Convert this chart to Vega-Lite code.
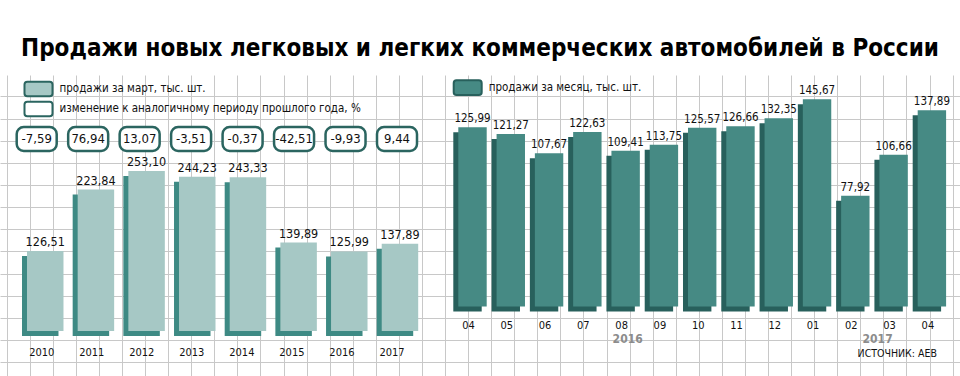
{
  "$schema": "https://vega.github.io/schema/vega-lite/v6.json",
  "background": "white",
  "width": 960,
  "height": 376,
  "autosize": {"type": "fit", "contains": "padding"},
  "padding": {"left": 0, "top": 37, "right": 0, "bottom": 0},
  "title": {"text": "Продажи новых легковых и легких коммерческих автомобилей в России", "font": "DejaVu Sans Condensed", "fontSize": 24, "fontWeight": "bold", "color": "#000000", "anchor": "middle", "offset": 14},
  "config": {
    "view": {"stroke": null},
    "font": "DejaVu Sans Condensed",
    "locale": {"number": {"decimal": ",", "thousands": " ", "grouping": [3], "currency": ["", ""], "minus": "-"}}
  },
  "datasets": {
    "march": [
      {"year": "2010", "sales": 126.51, "chg": -7.59},
      {"year": "2011", "sales": 223.84, "chg": 76.94},
      {"year": "2012", "sales": 253.10, "chg": 13.07},
      {"year": "2013", "sales": 244.23, "chg": -3.51},
      {"year": "2014", "sales": 243.33, "chg": -0.37},
      {"year": "2015", "sales": 139.89, "chg": -42.51},
      {"year": "2016", "sales": 125.99, "chg": -9.93},
      {"year": "2017", "sales": 137.89, "chg": 9.44}
    ],
    "monthly": [
      {"period": "2016-04", "label": "04", "sales": 125.99},
      {"period": "2016-05", "label": "05", "sales": 121.27},
      {"period": "2016-06", "label": "06", "sales": 107.67},
      {"period": "2016-07", "label": "07", "sales": 122.63},
      {"period": "2016-08", "label": "08", "sales": 109.41},
      {"period": "2016-09", "label": "09", "sales": 113.75},
      {"period": "2016-10", "label": "10", "sales": 125.57},
      {"period": "2016-11", "label": "11", "sales": 126.66},
      {"period": "2016-12", "label": "12", "sales": 132.35},
      {"period": "2017-01", "label": "01", "sales": 145.67},
      {"period": "2017-02", "label": "02", "sales": 77.92},
      {"period": "2017-03", "label": "03", "sales": 106.66},
      {"period": "2017-04", "label": "04", "sales": 137.89}
    ]
  },
  "resolve": {"scale": {"x": "independent", "y": "independent", "fill": "independent"}, "axis": {"x": "independent", "y": "independent"}, "legend": {"fill": "independent"}},
  "layer": [
    {
      "data": {"values": [{}]},
      "mark": {"type": "point", "opacity": 0},
      "encoding": {
        "x": {"datum": 0, "type": "quantitative", "scale": {"domain": [-0.29, 41.32], "nice": false, "zero": false}, "axis": {"grid": true, "labels": false, "ticks": false, "domain": false, "title": null, "tickCount": 42, "tickMinStep": 1, "gridColor": "#c8c8c8", "gridWidth": 1, "gridOpacity": 1}},
        "y": {"datum": 0, "type": "quantitative", "scale": {"domain": [-1.625, 11.964], "nice": false, "zero": false}, "axis": {"grid": true, "labels": false, "ticks": false, "domain": false, "title": null, "tickCount": 14, "tickMinStep": 1, "gridColor": "#c8c8c8", "gridWidth": 1, "gridOpacity": 1}}
      }
    },
    {
      "data": {"name": "march"},
      "encoding": {
        "x": {"field": "year", "type": "ordinal", "scale": {"range": [27, 418.2], "paddingInner": 0.28, "paddingOuter": 0}, "axis": null},
        "y": {"field": "sales", "type": "quantitative", "scale": {"domain": [-71.2, 405.1], "nice": false, "zero": false}, "axis": null}
      },
      "layer": [
        {"mark": {"type": "bar", "fill": "#3e8a84", "xOffset": -5, "yOffset": 5, "y2Offset": 5}},
        {"mark": {"type": "bar", "fill": "#a6c8c5"}},
        {
          "mark": {"type": "text", "baseline": "alphabetic", "dy": -5, "fontSize": 12.5, "color": "#111111", "font": "DejaVu Sans Condensed"},
          "encoding": {"text": {"field": "sales", "type": "quantitative", "format": ".2f"}}
        }
      ]
    },
    {
      "data": {"name": "march"},
      "encoding": {
        "x": {"field": "year", "type": "ordinal", "scale": {"range": [16.7, 417], "paddingInner": 0.223, "paddingOuter": 0}, "axis": null},
        "y": {"datum": "chg", "type": "nominal", "scale": {"range": [52, 76], "paddingInner": 0, "paddingOuter": 0}, "axis": null}
      },
      "layer": [
        {
          "mark": {"type": "rect", "stroke": "#2b6560", "strokeWidth": 2.5, "cornerRadius": 7},
          "encoding": {
            "fill": {
              "datum": "изменение к аналогичному периоду прошлого года, %",
              "type": "nominal",
              "scale": {"domain": ["продажи за март, тыс. шт.", "изменение к аналогичному периоду прошлого года, %"], "range": ["#a6c8c5", "#ffffff"]},
              "legend": {"orient": "none", "legendX": 30.5, "legendY": 6, "direction": "vertical", "title": null, "padding": 0, "symbolType": "M-1.6,-1.05H1.6Q2,-1.05 2,-0.65V0.65Q2,1.05 1.6,1.05H-1.6Q-2,1.05 -2,0.65V-0.65Q-2,-1.05 -1.6,-1.05Z", "symbolSize": 196, "symbolStrokeColor": "#2b6560", "symbolStrokeWidth": 2, "symbolOpacity": 1, "labelFont": "DejaVu Sans Condensed", "labelFontSize": 11.5, "labelColor": "#111111", "labelLimit": 0, "rowPadding": -4, "labelOffset": 13}
            }
          }
        },
        {
          "mark": {"type": "text", "fontSize": 13, "color": "#111111", "font": "DejaVu Sans Condensed"},
          "encoding": {"text": {"field": "chg", "type": "quantitative", "format": ".2f"}}
        }
      ]
    },
    {
      "data": {"name": "march"},
      "mark": {"type": "text", "baseline": "alphabetic", "dy": 25, "fontSize": 11, "color": "#111111", "font": "DejaVu Sans Condensed"},
      "encoding": {
        "x": {"field": "year", "type": "ordinal", "scale": {"range": [16.7, 417], "paddingInner": 0.223, "paddingOuter": 0}, "axis": null},
        "y": {"datum": 0, "type": "quantitative", "scale": {"domain": [-71.2, 405.1], "nice": false, "zero": false}, "axis": null},
        "text": {"field": "year"}
      }
    },
    {
      "data": {"name": "monthly"},
      "encoding": {
        "x": {"field": "period", "type": "ordinal", "scale": {"range": [458.3, 946.1], "paddingInner": 0.258, "paddingOuter": 0}, "axis": null},
        "y": {"field": "sales", "type": "quantitative", "scale": {"domain": [-48.8, 162.7], "nice": false, "zero": false}, "axis": null}
      },
      "layer": [
        {"mark": {"type": "bar", "fill": "#28605c", "xOffset": -5, "yOffset": 5, "y2Offset": 5}},
        {
          "mark": {"type": "bar"},
          "encoding": {
            "fill": {
              "datum": "продажи за месяц,  тыс. шт.",
              "type": "nominal",
              "scale": {"range": ["#468a84"]},
              "legend": {"orient": "none", "legendX": 459.7, "legendY": 4.7, "title": null, "padding": 0, "symbolType": "M-1.6,-1.05H1.6Q2,-1.05 2,-0.65V0.65Q2,1.05 1.6,1.05H-1.6Q-2,1.05 -2,0.65V-0.65Q-2,-1.05 -1.6,-1.05Z", "symbolSize": 196, "symbolStrokeColor": "#28605c", "symbolStrokeWidth": 2, "symbolOpacity": 1, "labelFont": "DejaVu Sans Condensed", "labelFontSize": 11.5, "labelColor": "#111111", "labelLimit": 0, "labelOffset": 13}
            }
          }
        },
        {
          "mark": {"type": "text", "baseline": "alphabetic", "dy": -5, "fontSize": 11.5, "color": "#111111", "font": "DejaVu Sans Condensed"},
          "encoding": {"text": {"field": "sales", "type": "quantitative", "format": ".2f"}}
        },
        {
          "mark": {"type": "text", "baseline": "alphabetic", "dy": 22, "dx": -4, "fontSize": 11, "color": "#111111", "font": "DejaVu Sans Condensed"},
          "encoding": {"y": {"datum": 0, "type": "quantitative"}, "text": {"field": "label"}}
        },
        {
          "transform": [{"filter": "datum.period == '2016-08'"}],
          "mark": {"type": "text", "baseline": "alphabetic", "dy": 36, "dx": 2, "fontSize": 12, "fontWeight": "bold", "color": "#8c8c8c", "font": "DejaVu Sans Condensed"},
          "encoding": {"y": {"datum": 0, "type": "quantitative"}, "text": {"value": "2016"}}
        },
        {
          "transform": [{"filter": "datum.period == '2017-03'"}],
          "mark": {"type": "text", "baseline": "alphabetic", "dy": 36, "dx": -16, "fontSize": 12, "fontWeight": "bold", "color": "#8c8c8c", "font": "DejaVu Sans Condensed"},
          "encoding": {"y": {"datum": 0, "type": "quantitative"}, "text": {"value": "2017"}}
        },
        {
          "transform": [{"filter": "datum.period == '2017-04'"}],
          "mark": {"type": "text", "baseline": "alphabetic", "align": "right", "dy": 50.5, "dx": 5, "fontSize": 10.5, "color": "#111111", "font": "DejaVu Sans Condensed"},
          "encoding": {"y": {"datum": 0, "type": "quantitative"}, "text": {"value": "ИСТОЧНИК: АЕВ"}}
        }
      ]
    }
  ]
}
